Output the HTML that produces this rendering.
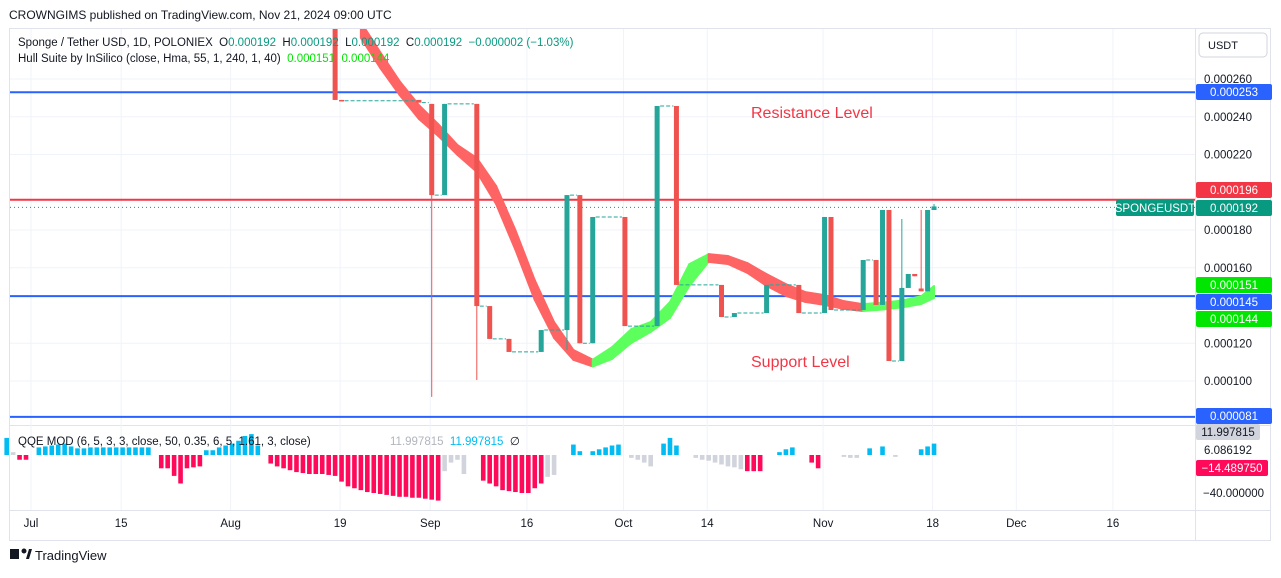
<!DOCTYPE html>
<html><head><meta charset="utf-8"><style>
body{margin:0;background:#fff;font-family:"Liberation Sans",sans-serif;}
svg text{font-family:"Liberation Sans",sans-serif;white-space:pre;}
</style></head><body>
<svg id="c" width="1281" height="573" xmlns="http://www.w3.org/2000/svg">
<rect x="0" y="0" width="1281" height="573" fill="#fff"/>
<text x="9" y="19" font-size="12" fill="#131722">CROWNGIMS published on TradingView.com, Nov 21, 2024 09:00 UTC</text>
<rect x="9.5" y="28.5" width="1261" height="512" fill="none" stroke="#e0e3eb"/>
<line x1="1195.5" y1="28" x2="1195.5" y2="540" stroke="#e0e3eb"/>
<line x1="10" y1="425.5" x2="1270" y2="425.5" stroke="#e0e3eb"/>
<line x1="10" y1="510.5" x2="1270" y2="510.5" stroke="#e0e3eb"/>
<g id="grid"></g><g id="levels"></g><g id="hull"></g><g id="candles"></g><g id="qqe"></g><g id="axes"></g>
<rect x="1199" y="33" width="68" height="24" rx="4" fill="#fff" stroke="#d1d4dc"/>
<text x="1208" y="49" font-size="11" fill="#131722">USDT</text>
<text x="18" y="46" font-size="11.5" fill="#131722">Sponge / Tether USD, 1D, POLONIEX  O<tspan fill="#089981">0.000192</tspan>  H<tspan fill="#089981">0.000192</tspan>  L<tspan fill="#089981">0.000192</tspan>  C<tspan fill="#089981">0.000192  −0.000002 (−1.03%)</tspan></text>
<text x="18" y="62" font-size="11.5" fill="#131722">Hull Suite by InSilico (close, Hma, 55, 1, 240, 1, 40)  <tspan fill="#00e600">0.000151  0.000144</tspan></text>
<text x="751" y="118" font-size="16" fill="#f23645">Resistance Level</text>
<text x="751" y="367" font-size="16" fill="#f23645">Support Level</text>
<text x="18" y="445" font-size="11.5" fill="#131722">QQE MOD (6, 5, 3, 3, close, 50, 0.35, 6, 5, 1.61, 3, close)</text>
<text x="390" y="445" font-size="11.5" fill="#b2b5be">11.997815  <tspan fill="#00bcf2">11.997815</tspan>  <tspan fill="#131722">∅</tspan></text>
<g><rect x="10" y="549" width="9" height="10" fill="#131722"/><circle cx="24" cy="551" r="2.5" fill="#131722"/><polygon points="26,559 29,549 32,549 29,559" fill="#131722"/>
<text x="35" y="560" font-size="13" fill="#131722">TradingView</text></g>
</svg>
<script>
const NS="http://www.w3.org/2000/svg";
// ---- data ----
const candleDays=[48,49,61,63,65,70,72,75,80,84,86,88,93,98,101,108,110,115,120,124,125,130,132,133,134,136,137,138,139,140,141];
const opens =[290,248.9,248.9,246.8,198.5,246.8,139.7,122.3,115.4,127,198.5,120,186.9,129.1,245.7,150.9,133.9,136,150.9,136,186.9,137.6,164.1,140.3,190.6,110.6,149.3,156.7,149,147.5,190.6];
const closes=[248.9,248.5,247.5,198.5,246.8,139.7,122.3,115.4,127,198.5,120,186.9,129.1,245.7,150.9,133.9,136,150.9,136,186.9,137.6,164.1,140.3,190.6,110.6,149.3,156.7,155.5,147.5,190.6,192.5];
const highs =[290,248.9,248.9,246.8,246.8,246.8,139.7,122.3,127,198.5,198.5,186.9,186.9,245.7,245.7,150.9,136,150.9,150.9,186.9,186.9,164.1,164.1,190.6,190.6,185.8,156.7,156.7,190.6,190.6,193.8];
const lows  =[248.9,248.5,247.5,91.6,198.5,100.5,122.3,115.4,115.4,116.4,120,120,129.1,129.1,150.9,133.9,133.9,136,136,136,137.6,137.6,140.3,140.3,110.6,110.6,149.3,155.5,147.5,147.5,190.6];
const hullDays=[52,55,58,61,64,67,70,73,76,79,82,85,88,91,94,97,100,103,106,109,112,115,118,121,124,127,130,133,136,139,141];
const hullUpper=[290.1,274.2,258.9,246.2,236.1,225.0,218.1,203.3,179.9,153.4,131.2,116.4,111.3,117.9,127.5,131.2,141.8,161.9,167.2,166.2,162.5,156.6,151.3,147.1,145.5,142.3,140.7,141.5,142.6,144.9,150.3];
const hullLower=[281.8,265.9,251.6,238.9,229.9,219.8,210.8,193.8,169.5,143.0,122.8,111.2,107.7,111.7,120.2,126.0,133.4,150.4,163.1,162.0,157.3,150.4,145.1,141.9,140.3,138.2,137.1,137.9,139.0,140.8,144.0];
const hullTrend=["d","d","d","d","d","d","d","d","d","d","d","d","d","u","u","u","u","u","u","d","d","d","d","d","d","d","d","u","u","u","u"];
const qqeDays=[-3,-2,-1,0,
2,3,4,5,6,7,8,9,10,11,12,13,14,15,16,17,18,19,
21,22,23,24,25,26,27,
28,29,30,31,32,33,34,35,36,
38,39,40,41,42,43,44,45,46,47,48,49,50,51,52,53,54,55,56,57,58,59,60,61,62,63,64,
65,66,67,68,
71,72,73,74,75,76,77,78,79,80,
81,82,
85,86,88,89,90,91,92,
94,95,96,97,
99,100,101,
104,105,106,107,108,109,110,111,
112,113,114,
117,118,119,
122,123,
127,128,129,
131,133,135,
139,140,141];
const qqeValues=[18,3,-5,-5,
8,9,10,11,12,9,7,7,8,8,8,8,8,8,8,8,8,8,
-14,-14,-22,-30,-14,-13,-12,
5,5,8,10,12,15,20,22,10,
-9,-12,-14,-16,-18,-19,-20,-20,-20,-21,-22,-28,-33,-35,-37,-39,-40,-41,-42,-43,-44,-44,-45,-45,-46,-47,-48,
-17,-8,-5,-20,
-27,-30,-33,-37,-38,-39,-40,-40,-35,-30,
-23,-21,
11,4,4,6,8,10,11,
-3,-5,-8,-12,
12,18,10,
-3,-5,-6,-8,-10,-12,-13,-15,
-17,-17,-17,
3,6,8,
-8,-14,
-2,-3,-3,
7,9,-2,
6,9,12];
const qqeKind=["b","g","r","r",
"b","b","b","b","b","b","b","b","b","b","b","b","b","b","b","b","b","b",
"r","r","r","r","r","r","r",
"b","b","b","b","b","b","b","b","b",
"r","r","r","r","r","r","r","r","r","r","r","r","r","r","r","r","r","r","r","r","r","r","r","r","r","r","r",
"g","g","g","g",
"r","r","r","r","r","r","r","r","r","r",
"g","g",
"b","b","b","b","b","b","b",
"g","g","g","g",
"b","b","b",
"g","g","g","g","g","g","g","g",
"r","r","r",
"b","b","b",
"r","r",
"g","g","g",
"b","b","g",
"b","b","b"];
const priceTicks=[260,240,220,180,160,120,100];
const dateTickDays=[0,14,31,48,62,77,92,105,123,140,153,168];
const dateTickLabels=["Jul","15","Aug","19","Sep","16","Oct","14","Nov","18","Dec","16"];
const levelPrices=[253,196,145,81];
const levelColors=["#2962ff","#f23645","#2962ff","#2962ff"];
// ---- scales ----
const X=d=>26+d*6.44;
const Y=p=>79+(260-p)*1.8875;
const QY=v=>455-v*0.95;
function mk(tag,attrs,parent){const e=document.createElementNS(NS,tag);for(const k in attrs)e.setAttribute(k,attrs[k]);document.getElementById(parent).appendChild(e);return e;}
// grid
priceTicks.forEach(p=>{const l=mk("line",{x1:10,x2:1195,y1:Y(p),y2:Y(p),stroke:"#f0f3fa"},"grid");

});
dateTickDays.forEach((d,i)=>{const l=mk("line",{x1:X(d)+5,x2:X(d)+5,y1:29,y2:510,stroke:"#f0f3fa"},"grid");


const t=mk("text",{x:X(d)+5,y:527,"font-size":11.5,fill:"#131722","text-anchor":"middle"},"axes");t.textContent=dateTickLabels[i];

});
priceTicks.forEach(p=>{const t=mk("text",{x:1204,y:Y(p)+4,"font-size":11.5,fill:"#131722"},"axes");t.textContent=(p/1e6).toFixed(6);

});
// levels
levelPrices.forEach((p,i)=>{const l=mk("line",{x1:10,x2:1195,y1:Y(p),y2:Y(p),stroke:levelColors[i],"stroke-width":2},"levels");

});
const lastClose=closes[closes.length-1];
const dl=mk("line",{x1:10,x2:1195,y1:Y(lastClose-0.5),y2:Y(lastClose-0.5),stroke:"#089981","stroke-dasharray":"1 3"},"levels");


// hull ribbon
for(let i=0;i<hullDays.length-1;i++){
 const pts=[[X(hullDays[i]),Y(hullUpper[i])],[X(hullDays[i+1]),Y(hullUpper[i+1])],[X(hullDays[i+1]),Y(hullLower[i+1])],[X(hullDays[i]),Y(hullLower[i])]];
 const up=hullTrend[i+1]==="u";
 const pg=mk("polygon",{points:pts.map(p=>p.join(",")).join(" "),fill:up?"#5cff5c":"#ff6464",stroke:up?"#5cff5c":"#ff6464","stroke-width":2,"stroke-linejoin":"round"},"hull");
 
 
}
// candles
const clip=document.createElementNS(NS,"clipPath");clip.setAttribute("id","pc");
const cr=document.createElementNS(NS,"rect");cr.setAttribute("x",10);cr.setAttribute("y",29);cr.setAttribute("width",1185);cr.setAttribute("height",396);clip.appendChild(cr);
document.getElementById("c").appendChild(clip);
document.getElementById("candles").setAttribute("clip-path","url(#pc)");
document.getElementById("hull").setAttribute("clip-path","url(#pc)");
for(let i=0;i<candleDays.length;i++){
 const x=X(candleDays[i]),o=opens[i],c=closes[i];
 const col=c>=o?"#26a69a":"#ef5350";
 const w=mk("line",{x1:x,x2:x,y1:Y(highs[i]),y2:Y(lows[i]),stroke:col,"stroke-width":1},"candles");
 
 
 const top=Y(Math.max(o,c)),bot=Y(Math.min(o,c));
 const b=mk("rect",{x:x-2.5,y:top,width:5,height:Math.max(1.5,bot-top),fill:col},"candles");
 
 
 if(i<candleDays.length-1&&candleDays[i+1]-candleDays[i]>1){
  const f=mk("line",{x1:x+3,x2:X(candleDays[i+1])-3,y1:Y(c),y2:Y(c),stroke:"#26a69a","stroke-dasharray":"4 2"},"candles");
  
  
 }
}
// qqe histogram
const qqeColorMap={b:"#00bcf2",r:"#ff0a5a",g:"#d1d4dc"};
qqeValues.forEach((v,i)=>{
 const d=qqeDays[i];
 const y0=QY(0),y1=QY(v);
 const r=mk("rect",{x:X(d)-2.3,y:Math.min(y0,y1),width:4.6,height:Math.max(1,Math.abs(y1-y0)),fill:qqeColorMap[qqeKind[i]]},"qqe");
 
 
});
// price labels
function tag(y,txt,bg,fg,x,w){const r=mk("rect",{x:x||1196,y:y-8,width:w||76,height:16,rx:2,fill:bg},"axes");


const t=mk("text",{x:(x||1196)+(w?w/2:38),y:y+4,"font-size":11.5,fill:fg,"text-anchor":"middle"},"axes");t.textContent=txt;}
tag(92,"0.000253","#2962ff","#fff");
tag(190,"0.000196","#f23645","#fff");
tag(208,"0.000192","#089981","#fff");
tag(208,"SPONGEUSDT","#089981","#fff",1116,78);
tag(285,"0.000151","#00e600","#fff");
tag(302,"0.000145","#2962ff","#fff");
tag(319,"0.000144","#00e600","#fff");
tag(416,"0.000081","#2962ff","#fff");
tag(432,"11.997815","#d1d4dc","#131722",1196,64);
tag(468,"−14.489750","#ff0a5a","#fff",1196,72);
const t1=mk("text",{x:1204,y:454,"font-size":11.5,fill:"#131722"},"axes");t1.textContent="6.086192";


const t2=mk("text",{x:1203,y:497,"font-size":11.5,fill:"#131722"},"axes");t2.textContent="−40.000000";


</script>
</body></html>
